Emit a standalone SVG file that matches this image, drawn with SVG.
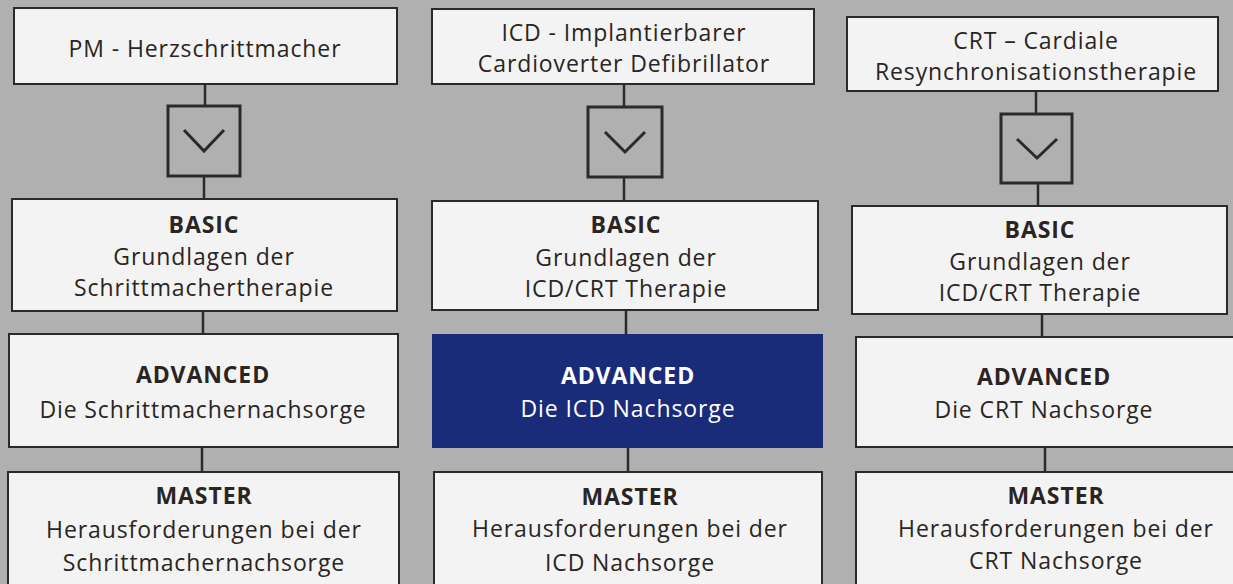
<svg xmlns="http://www.w3.org/2000/svg" width="1233" height="584" viewBox="0 0 1233 584">
<style>
.bg{fill:#b0b0b0}
.box{fill:#f3f3f3;stroke:#2a2a2a;stroke-width:2}
.hi{fill:#1a2b7a;stroke:#1a2b7a;stroke-width:2}
.chev{fill:none;stroke:#2a2a2a;stroke-width:3}
.con{stroke:#2a2a2a;stroke-width:2.5;fill:none}
text{font-family:"Open Sans","Liberation Sans",sans-serif;font-size:23px;letter-spacing:0.9px;fill:#2a2522;text-anchor:middle}
.b{font-weight:bold}
.w{fill:#ffffff}
</style>
<rect class="bg" x="0" y="0" width="1233" height="584"/>
<g id="connectors">
<line class="con" x1="205" y1="84" x2="205" y2="106"/>
<line class="con" x1="204" y1="176" x2="204" y2="199"/>
<line class="con" x1="203" y1="311" x2="203" y2="334"/>
<line class="con" x1="202" y1="447" x2="202" y2="472"/>
<line class="con" x1="624" y1="84" x2="624" y2="107"/>
<line class="con" x1="624" y1="177" x2="624" y2="201"/>
<line class="con" x1="626" y1="310" x2="626" y2="335"/>
<line class="con" x1="628" y1="447" x2="628" y2="472"/>
<line class="con" x1="1036" y1="91" x2="1036" y2="114"/>
<line class="con" x1="1038" y1="183" x2="1038" y2="206"/>
<line class="con" x1="1042" y1="314" x2="1042" y2="337"/>
<line class="con" x1="1045" y1="447" x2="1045" y2="472"/>
</g>
<g id="pm-top">
<rect class="box" x="14" y="8" width="383" height="76"/>
<text x="205" y="57">PM - Herzschrittmacher</text>
</g>
<g id="pm-chevron">
<rect class="chev" x="168" y="106" width="72" height="70"/>
<polyline class="chev" points="184,130 204,151 224,130"/>
</g>
<g id="pm-basic">
<rect class="box" x="12" y="199" width="385" height="112"/>
<text class="b" x="204" y="233">BASIC</text>
<text x="204" y="265">Grundlagen der</text>
<text x="204" y="296">Schrittmachertherapie</text>
</g>
<g id="pm-advanced">
<rect class="box" x="9" y="334" width="389" height="113"/>
<text class="b" x="203" y="383">ADVANCED</text>
<text x="203" y="418">Die Schrittmachernachsorge</text>
</g>
<g id="pm-master">
<rect class="box" x="8" y="472" width="391" height="120"/>
<text class="b" x="204" y="504">MASTER</text>
<text x="204" y="538">Herausforderungen bei der</text>
<text x="204" y="571">Schrittmachernachsorge</text>
</g>
<g id="icd-top">
<rect class="box" x="432" y="9" width="382" height="75"/>
<text x="624" y="41">ICD - Implantierbarer</text>
<text x="624" y="72">Cardioverter Defibrillator</text>
</g>
<g id="icd-chevron">
<rect class="chev" x="588" y="107" width="74" height="70"/>
<polyline class="chev" points="605,132 625,152 645,132"/>
</g>
<g id="icd-basic">
<rect class="box" x="432" y="201" width="386" height="109"/>
<text class="b" x="626" y="233">BASIC</text>
<text x="626" y="266">Grundlagen der</text>
<text x="626" y="297">ICD/CRT Therapie</text>
</g>
<g id="icd-advanced">
<rect class="hi" x="433" y="335" width="389" height="112"/>
<text class="b w" x="628" y="384">ADVANCED</text>
<text class="w" x="628" y="417">Die ICD Nachsorge</text>
</g>
<g id="icd-master">
<rect class="box" x="434" y="472" width="388" height="120"/>
<text class="b" x="630" y="505">MASTER</text>
<text x="630" y="537">Herausforderungen bei der</text>
<text x="630" y="571">ICD Nachsorge</text>
</g>
<g id="crt-top">
<rect class="box" x="847" y="17" width="371" height="74"/>
<text x="1036" y="49">CRT – Cardiale</text>
<text x="1036" y="80">Resynchronisationstherapie</text>
</g>
<g id="crt-chevron">
<rect class="chev" x="1001" y="114" width="71" height="69"/>
<polyline class="chev" points="1017,139 1037,158 1057,139"/>
</g>
<g id="crt-basic">
<rect class="box" x="852" y="206" width="375" height="108"/>
<text class="b" x="1040" y="238">BASIC</text>
<text x="1040" y="270">Grundlagen der</text>
<text x="1040" y="301">ICD/CRT Therapie</text>
</g>
<g id="crt-advanced">
<rect class="box" x="856" y="337" width="378" height="110"/>
<text class="b" x="1044" y="385">ADVANCED</text>
<text x="1044" y="418">Die CRT Nachsorge</text>
</g>
<g id="crt-master">
<rect class="box" x="856" y="472" width="378" height="120"/>
<text class="b" x="1056" y="504">MASTER</text>
<text x="1056" y="537">Herausforderungen bei der</text>
<text x="1056" y="569">CRT Nachsorge</text>
</g>
</svg>
